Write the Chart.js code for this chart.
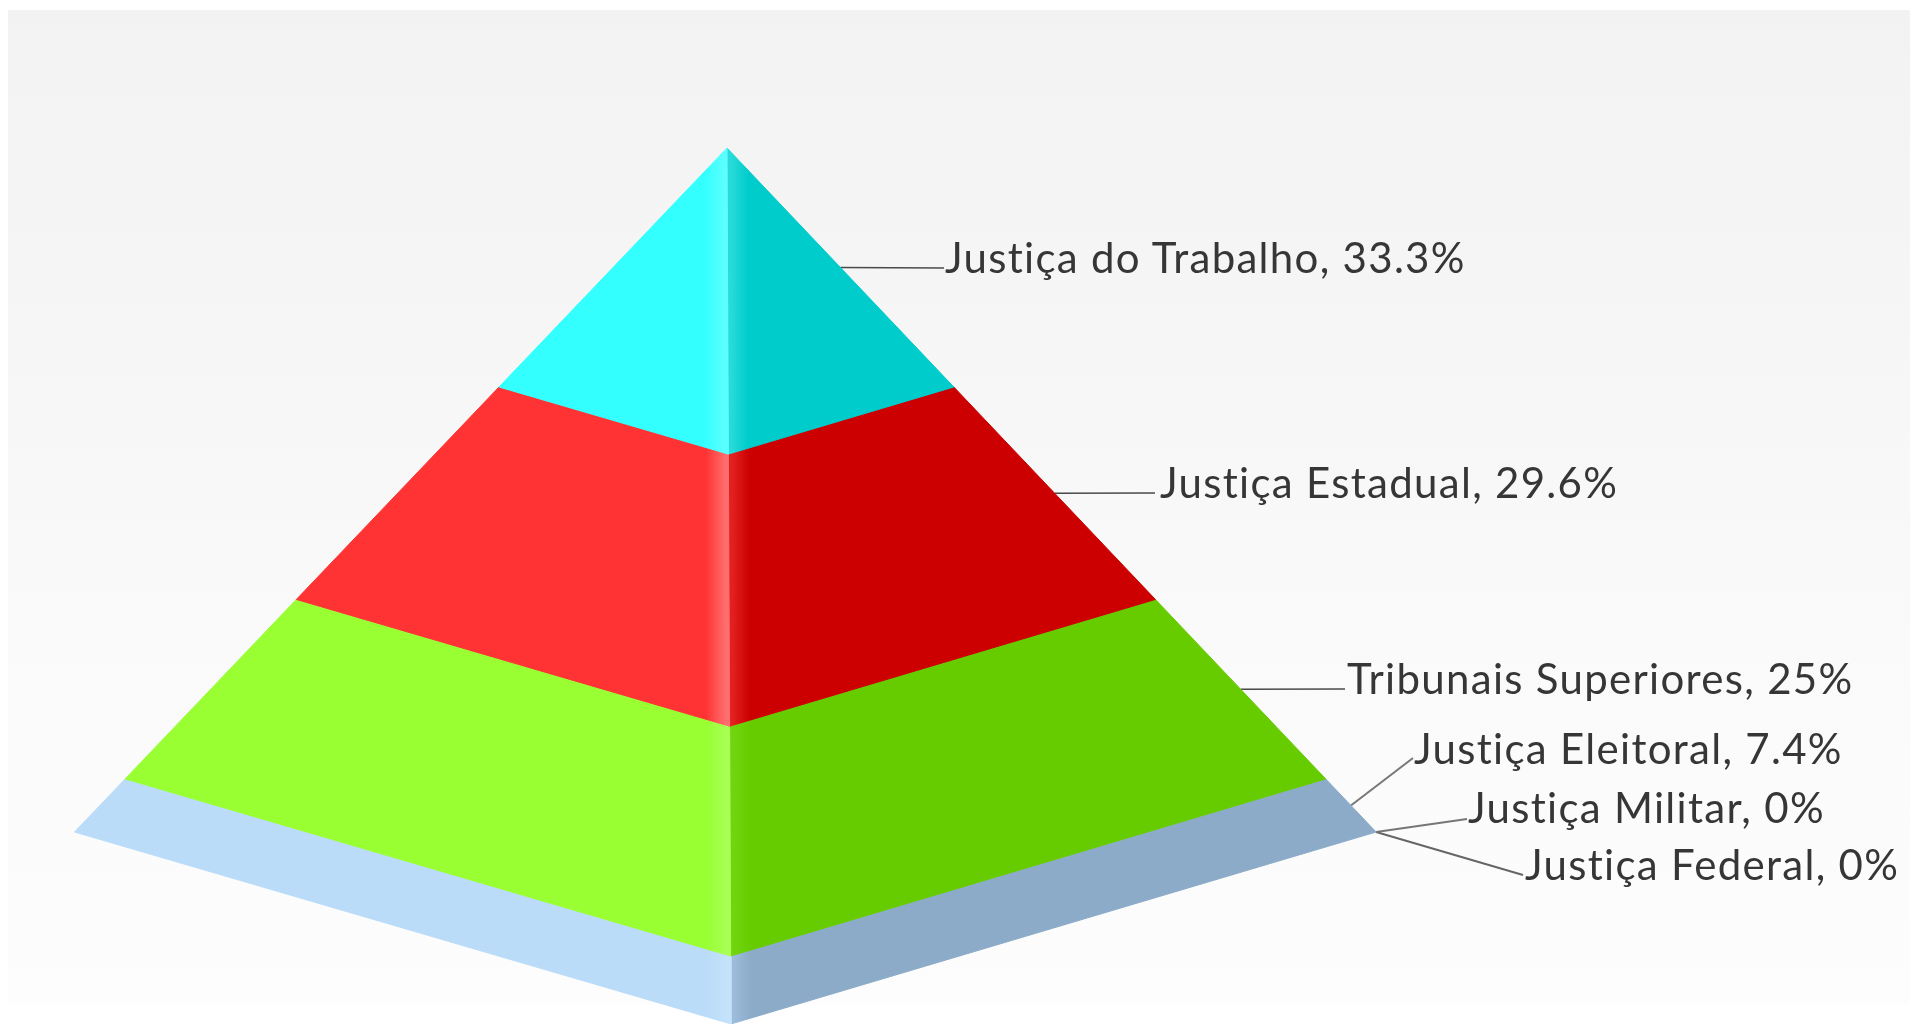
<!DOCTYPE html>
<html>
<head>
<meta charset="utf-8">
<style>html,body{margin:0;padding:0;background:#fff}canvas{display:block}</style>
<script src="https://cdn.jsdelivr.net/npm/chart.js@4/dist/chart.umd.min.js"></script>
</head>
<body>
<canvas id="c" width="1910" height="1024"></canvas>
<script>
// ---- data ----
const categories = ['Justiça do Trabalho','Justiça Estadual','Tribunais Superiores','Justiça Eleitoral','Justiça Militar','Justiça Federal'];
const values = [33.3,29.6,25,7.4,0,0];
const valueLabels = ['33.3%','29.6%','25%','7.4%','0%','0%'];

// ---- styles ----
const leftColors  = ['#33FFFF','#FF3333','#99FF33','#BADCF8','#BADCF8','#BADCF8'];
const leftLights  = ['#5CFFFF','#FF6E6E','#A8FF55','#C4E2FA','#C4E2FA','#C4E2FA'];
const rightColors = ['#00CCCC','#CC0000','#66CC00','#8BABC8','#8BABC8','#8BABC8'];
const rightLights = ['#28DADA','#E22020','#72D40E','#9DBBDB','#9DBBDB','#9DBBDB'];
const leaderColors = ['#4A4A4A','#4A4A4A','#4A4A4A','#777777','#777777','#666666'];
const leaderWidths = [1.5,1.5,1.5,2,2,2];

// ---- layout (canvas pixels of the page) ----
const W = 1910, H = 1024, apexX = 727, apexY = 148, baseY = 832;
const total = values.reduce((a,b)=>a+b,0);
const unit = (baseY-apexY)/total;            // pixels per percentage point
const dirLeft = [-0.954,1], dirRight = [0.949,1], dirFront = [0.0058,1.2807]; // 3D projection of the three edges
const toX = px => (px-apexX)/unit, toY = px => (px-apexY)/unit;
const leaderEndX = [944,1155,1345,1413,1467,1523];
const leaderEndY = [268,493,689,758,819,875];
const textX = [945,1160,1347,1414,1468,1525];
const textY = [259,484,680,750,809,866];
const fontFamily = 'Lato, Carlito, sans-serif';
const fontSize = 42;
const letterGap = '1.3px';

// ---- geometry from values ----
const cum = []; values.reduce((a,v,i)=>(cum[i]=a+v),0);
const at = (d,c) => ({x:d[0]*c,y:d[1]*c});
const start = i => i===0?0:cum[i-1];

function faceGradient(chart,i,side){
  const area = chart.chartArea; if(!area) return side?rightColors[i]:leftColors[i];
  const cx = chart.scales.x.getPixelForValue(dirFront[0]*cum[i]);
  if(side===0){
    const g = chart.ctx.createLinearGradient(cx-24,0,cx,0);
    g.addColorStop(0,leftColors[i]);g.addColorStop(0.85,leftLights[i]);g.addColorStop(1,leftLights[i]);
    return g;
  }
  const g = chart.ctx.createLinearGradient(cx,0,cx+20,0);
  g.addColorStop(0,rightLights[i]);g.addColorStop(0.15,rightLights[i]);g.addColorStop(1,rightColors[i]);
  return g;
}
const datasets = [];
values.forEach((v,i)=>{
  if(v<=0) return;
  [[dirLeft,0],[dirRight,1]].forEach(([d,side])=>{
    const s=start(i), e=cum[i];
    const col = c => faceGradient(c.chart,i,side);
    datasets.push({
      label:categories[i]+(side?' (right face)':' (left face)'),
      data:[at(d,s),at(dirFront,s),at(dirFront,e),at(d,e),at(d,s)],
      showLine:true,fill:'shape',tension:0,pointRadius:0,
      backgroundColor:col,borderColor:col,borderWidth:1
    });
  });
});
values.forEach((v,i)=>{
  const mid=(start(i)+cum[i])/2;
  datasets.push({
    label:categories[i]+' leader',
    data:[at(dirRight,mid),{x:toX(leaderEndX[i]),y:toY(leaderEndY[i])}],
    showLine:true,fill:false,tension:0,pointRadius:0,
    borderColor:leaderColors[i],borderWidth:leaderWidths[i]
  });
});

const backdrop = {id:'backdrop',beforeDraw(chart){
  const c=chart.ctx; const g=c.createLinearGradient(0,10,0,1005);
  g.addColorStop(0,'#F2F2F2');g.addColorStop(0.4,'#F7F7F7');g.addColorStop(0.65,'#FAFAFA');g.addColorStop(1,'#FDFDFD');
  c.save();c.fillStyle='#FFFFFF';c.fillRect(0,0,W,H);c.fillStyle=g;c.fillRect(8,10,W-8,994);c.restore();
}};
const labelsPlugin = {id:'labels',afterDatasetsDraw(chart){
  const c=chart.ctx,sx=chart.scales.x,sy=chart.scales.y;
  c.save();c.font=fontSize+'px '+fontFamily;c.letterSpacing=letterGap;c.fontKerning='normal';
  c.fillStyle='#363636';c.textAlign='left';c.textBaseline='middle';
  categories.forEach((n,i)=>{
    c.fillText(n+', '+valueLabels[i],sx.getPixelForValue(toX(textX[i])),sy.getPixelForValue(toY(textY[i])));
  });
  c.restore();
}};

new Chart(document.getElementById('c'),{
  type:'scatter',
  data:{datasets},
  plugins:[backdrop,labelsPlugin],
  options:{
    responsive:false,animation:false,events:[],
    layout:{padding:0},
    plugins:{legend:{display:false},tooltip:{enabled:false},title:{display:false}},
    scales:{
      x:{type:'linear',display:false,min:toX(0),max:toX(W)},
      y:{type:'linear',display:false,reverse:true,min:toY(0),max:toY(H)}
    }
  }
});
</script>
</body>
</html>
